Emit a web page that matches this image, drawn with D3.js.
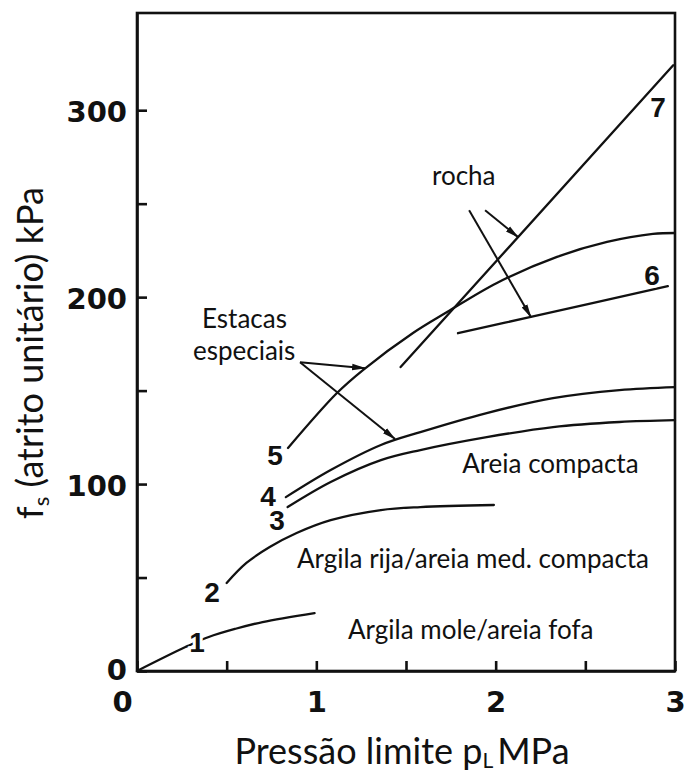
<!DOCTYPE html>
<html>
<head>
<meta charset="utf-8">
<script src="https://cdn.jsdelivr.net/npm/d3@7"></script>
<style>
  html, body { margin: 0; padding: 0; background: #fff; }
  svg { display: block; }
  .tick text { font-family: "DejaVu Sans", sans-serif; font-weight: bold; font-size: 29px; fill: #111; }
  .domain, .tick line { stroke: #111; stroke-width: 2.6; }
</style>
</head>
<body>
<svg id="chart" width="686" height="772"></svg>
<script>
// Unit skin friction fs (kPa) against limit pressure pL (MPa), curves 1–7
const curve1 = [[0, 0], [0.27, 12.8], [0.40, 18.2], [0.55, 22.6], [0.70, 26.2], [0.99, 31.0]];
const curve2 = [[0.50, 47.1], [0.61, 57.8], [0.74, 66.3], [0.89, 73.8], [1.08, 80.7], [1.36, 86.1], [1.58, 87.7], [1.99, 88.8]];
const curve3 = [[0.84, 87.7], [1.08, 101.1], [1.36, 112.8], [1.58, 118.2], [1.95, 125.1], [2.32, 130.5], [2.69, 133.2], [3.0, 134.2]];
const curve4 = [[0.83, 93.0], [1.08, 107.5], [1.36, 120.9], [1.58, 127.8], [1.95, 138.0], [2.32, 146.0], [2.69, 150.3], [3.0, 151.9]];
const curve5 = [[0.842, 119.3], [1.115, 148.7], [1.26, 161.0], [1.539, 180.8], [1.729, 192.0], [2.007, 207.6], [2.342, 221.5], [2.621, 229.5], [2.877, 233.8], [3.0, 234.3]];
const curve6 = [[1.79, 180.7], [2.19, 189.3], [2.96, 205.9]];
const curve7 = [[1.47, 162.6], [2.99, 324.0]];

const curves = [curve1, curve2, curve3, curve4, curve5, curve6, curve7];
const curveNames = ["1", "2", "3", "4", "5", "6", "7"];
const curveLabelAt = [[0.335, 15.5], [0.418, 42.2], [0.781, 80.7], [0.731, 93.6], [0.770, 115.5], [2.872, 211.8], [2.906, 301.6]];

const xTicks = [0, 0.5, 1, 1.5, 2, 2.5, 3];
const xTickLabels = ["0", "", "1", "", "2", "", "3"];
const yTicks = [0, 50, 100, 150, 200, 250, 300];
const yTickLabels = ["0", "", "100", "", "200", "", "300"];

const soilTexts = ["Areia compacta", "Argila rija/areia med. compacta", "Argila mole/areia fofa"];
const soilAt = [[1.813, 105.9], [0.892, 55.1], [1.177, 17.1]];

const noteTexts = ["rocha", "Estacas", "especiais"];
const noteAt = [[1.645, 259.9], [0.3625, 183.4], [0.312, 166.3]];

// arrows: [from, to] in data units
const arrows = [
  [[1.941, 246.5], [2.125, 232.1]],
  [[1.852, 246.5], [2.197, 189.3]],
  [[0.909, 165.2], [1.272, 162.0]],
  [[0.909, 165.2], [1.439, 124.1]]
];

const svg = d3.select("#chart");
const x = d3.scaleLinear().domain([0, 3]).range([137, 675]);
const y = d3.scaleLinear().domain([0, 352]).range([671, 13]);

// frame
svg.append("rect")
  .attr("x", x(0)).attr("y", y(352))
  .attr("width", x(3) - x(0)).attr("height", y(0) - y(352))
  .attr("fill", "none").attr("stroke", "#111").attr("stroke-width", 2.6);

// axes with inward ticks
const gx = svg.append("g").attr("transform", `translate(0,${y(0)})`)
  .call(d3.axisBottom(x).tickValues(xTicks).tickSizeInner(-10).tickSizeOuter(0)
    .tickPadding(20).tickFormat((d, i) => xTickLabels[i]));
gx.selectAll(".tick text").filter(d => d === 0).attr("dx", -15);

const gy = svg.append("g").attr("transform", `translate(${x(0)},0)`)
  .call(d3.axisLeft(y).tickValues(yTicks).tickSizeInner(-10).tickSizeOuter(0)
    .tickPadding(10).tickFormat((d, i) => yTickLabels[i]));
gy.selectAll(".tick text").attr("dy", "0.4em");
gy.selectAll(".tick text").filter(d => d === 0).attr("dy", "0.3em");

// arrow head
svg.append("defs").append("marker")
  .attr("id", "head").attr("markerUnits", "userSpaceOnUse")
  .attr("viewBox", "0 0 14 8").attr("refX", 13).attr("refY", 4)
  .attr("markerWidth", 14).attr("markerHeight", 8).attr("orient", "auto")
  .append("path").attr("d", "M0,0.8 L14,4 L0,7.2 Z").attr("fill", "#111");

// curves
const line = d3.line().x(d => x(d[0])).y(d => y(d[1])).curve(d3.curveCatmullRom.alpha(0.5));
svg.append("g").selectAll("path").data(curves).join("path")
  .attr("d", line).attr("fill", "none").attr("stroke", "#111")
  .attr("stroke-width", 2.3).attr("stroke-linecap", "round");

// curve numbers
svg.append("g").selectAll("text").data(curveNames).join("text")
  .attr("x", (d, i) => x(curveLabelAt[i][0]))
  .attr("y", (d, i) => y(curveLabelAt[i][1]))
  .attr("text-anchor", "middle").attr("dominant-baseline", "central")
  .attr("font-family", "Liberation Sans, Arial, sans-serif").attr("font-weight", "bold")
  .attr("font-size", 28).attr("fill", "#111")
  .attr("stroke", "#fff").attr("stroke-width", 6).attr("paint-order", "stroke")
  .text(d => d);

// arrows
svg.append("g").selectAll("line").data(arrows).join("line")
  .attr("x1", d => x(d[0][0])).attr("y1", d => y(d[0][1]))
  .attr("x2", d => x(d[1][0])).attr("y2", d => y(d[1][1]))
  .attr("stroke", "#111").attr("stroke-width", 2).attr("marker-end", "url(#head)");

// soil zones and notes
const textFont = "Lato, 'Open Sans', sans-serif";
svg.append("g").selectAll("text").data(soilTexts).join("text")
  .attr("x", (d, i) => x(soilAt[i][0])).attr("y", (d, i) => y(soilAt[i][1]))
  .attr("font-family", textFont).attr("font-size", 26).attr("fill", "#111")
  .text(d => d);
svg.append("g").selectAll("text").data(noteTexts).join("text")
  .attr("x", (d, i) => x(noteAt[i][0])).attr("y", (d, i) => y(noteAt[i][1]))
  .attr("font-family", textFont).attr("font-size", 26).attr("fill", "#111")
  .text(d => d);

// axis titles
const xt = svg.append("text").attr("x", 402).attr("y", 764)
  .attr("text-anchor", "middle").attr("font-family", textFont).attr("font-size", 36).attr("fill", "#111");
xt.append("tspan").text("Pressão limite p");
xt.append("tspan").attr("font-size", 21).attr("dy", 4).text("L");
xt.append("tspan").attr("dy", -4).attr("dx", 4).text("MPa");

const yt = svg.append("text").attr("transform", "translate(43,353) rotate(-90)")
  .attr("text-anchor", "middle").attr("font-family", textFont).attr("font-size", 36).attr("fill", "#111");
yt.append("tspan").text("f");
yt.append("tspan").attr("font-size", 22).attr("dy", 6).text("s");
yt.append("tspan").attr("dy", -6).text(" (atrito unitário) kPa");
</script>
</body>
</html>
